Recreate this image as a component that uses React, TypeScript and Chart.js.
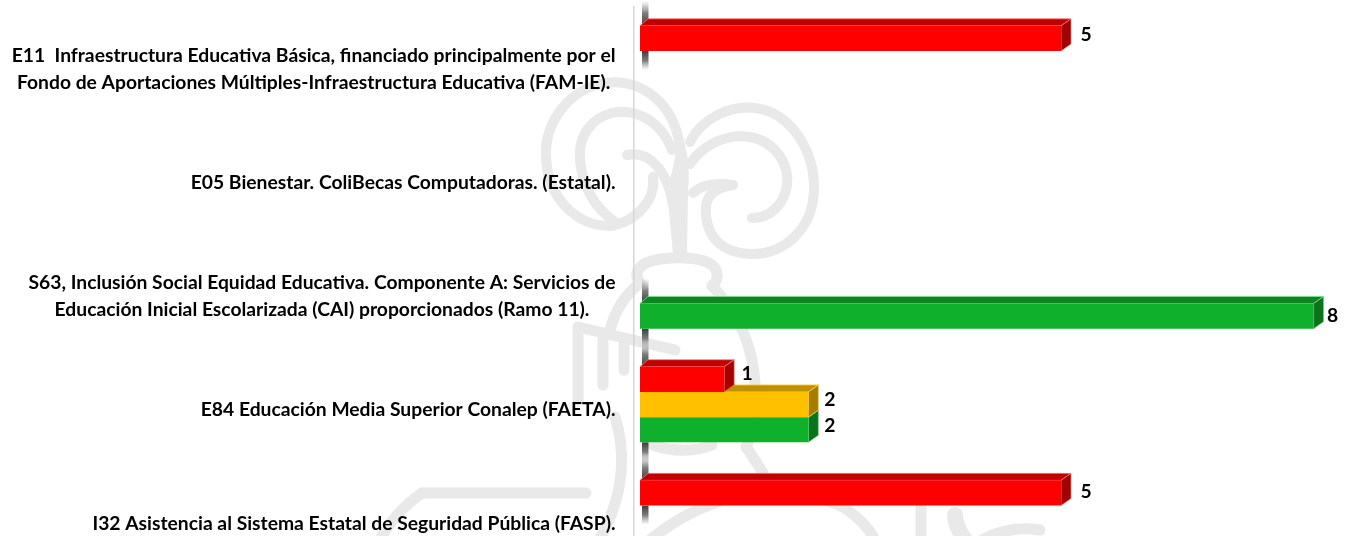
import React, { useEffect, useRef } from "react";
import { Chart, registerables } from "chart.js";

Chart.register(...registerables);

const categories: string[][] = [
  ["E11  Infraestructura Educativa Básica, financiado principalmente por el", "Fondo de Aportaciones Múltiples-Infraestructura Educativa (FAM-IE)."],
  ["E05 Bienestar. ColiBecas Computadoras. (Estatal)."],
  ["S63, Inclusión Social Equidad Educativa. Componente A: Servicios de", "Educación Inicial Escolarizada (CAI) proporcionados (Ramo 11)."],
  ["E84 Educación Media Superior Conalep (FAETA)."],
  ["I32 Asistencia al Sistema Estatal de Seguridad Pública (FASP)."],
];
const redValues = [5, null, null, 1, 5];
const yellowValues = [null, null, null, 2, null];
const greenValues = [null, null, 8, 2, null];

const RED = { front: "#FF0000", top: "#C00000", side: "#A50000", edge: "rgba(255,120,120,0.75)" };
const YELLOW = { front: "#FFC000", top: "#BF9000", side: "#A67D00", edge: "rgba(255,205,60,0.85)" };
const GREEN = { front: "#0FB02C", top: "#0C8522", side: "#0A741D", edge: "rgba(130,220,140,0.75)" };
const FACES = [RED, YELLOW, GREEN];
const FONT = "bold 19.3px Lato";
const WATERMARK = "#E9E9E9";

// hand-placed label nudges of the original, per "dataset:category"
const labelNudge: Record<string, [number, number]> = {
  "0:0": [25, -4],
  "0:3": [23, -6],
  "1:3": [21.5, -5],
  "2:3": [21.5, -3.5],
  "0:4": [25, -1.5],
  "2:2": [19, 0],
};

const watermarkPaths: [number, string][] = [
  [10, "M680 146 C672 95 632 76 600 84 C566 92 545 125 546 155 C547 200 578 226 610 226"],
  [10, "M653 177 C656 200 636 222 610 226"],
  [10, "M627 155 C650 150 668 172 673 205"],
  [10, "M672 150 C660 118 632 108 612 113 C592 118 578 135 580 160 C583 190 598 210 615 222"],
  [10, "M690 142 C702 118 730 105 755 108 C790 112 815 150 814 190 C813 228 785 255 750 254 C725 253 708 240 706 215 C704 198 712 188 733 185"],
  [10, "M693 193 C700 186 712 182 733 185"],
  [10, "M690 164 C702 146 725 133 750 137 C775 141 790 165 787 185 C784 205 770 218 752 218"],
  [11, "M640 283 C632 272 640 262 660 259 C685 256 710 258 716 270 C719 278 716 282 712 286"],
  [11, "M640 283 C625 295 615 310 610 330"],
  [11, "M712 286 C745 320 758 360 755 410 C753 430 750 440 746 447"],
  [11, "M746 447 C752 455 758 465 763 473"],
  [11, "M578 400 L578 327 L675 350"],
  [11, "M603 340 L603 385"],
  [11, "M624 345 L624 370"],
  [11, "M653 445 C672 452 695 452 712 445"],
  [11, "M615 417 C624 445 628 490 599 540"],
  [11, "M422 493 L586 493"],
  [11, "M422 493 C405 505 390 520 380 540"],
  [11, "M650 540 C680 515 715 500 750 493 C790 490 825 498 843 507"],
  [11, "M843 507 C860 518 870 530 875 540"],
  [11, "M921 507 L921 540"],
  [16, "M955 515 C955 525 960 533 965 540"],
  [11, "M982 540 C1000 530 1020 527 1040 530"],
];

const watermarkFills: string[] = [
  "M677 142 C674 170 668 185 667 190 L673 254 L687 254 L688 190 C690 170 688 155 684 142 Z",
];

const wallStrip = {
  id: "wallStrip",
  beforeDatasetsDraw(chart: any) {
    const { ctx } = chart;
    const x0 = 642;
    const x1 = 648.5;
    chart.data.labels.forEach((_: unknown, i: number) => {
      const bars = chart.data.datasets
        .map((_d: unknown, di: number) => chart.getDatasetMeta(di))
        .filter((m: any) => chart.data.datasets[m.index].data[i] != null)
        .map((m: any) => m.data[i]);
      if (!bars.length) return;
      const top = Math.min(...bars.map((b: any) => b.y - b.height / 2));
      const bottom = Math.max(...bars.map((b: any) => b.y + b.height / 2));
      const spans = [
        [top - 25, top, false],
        [bottom, bottom + 19, true],
      ] as [number, number, boolean][];
      spans.forEach(([a, b, downward]) => {
        const g = ctx.createLinearGradient(0, a, 0, b);
        g.addColorStop(downward ? 0 : 1, "rgba(60,60,60,1)");
        g.addColorStop(0.5, "rgba(90,90,90,0.8)");
        g.addColorStop(downward ? 1 : 0, "rgba(130,130,130,0)");
        ctx.fillStyle = g;
        ctx.fillRect(x0, a, x1 - x0, b - a);
      });
    });
  },
};

const plugin3d = {
  id: "plugin3d",
  beforeDraw(chart: any) {
    const { ctx } = chart;
    ctx.save();
    ctx.fillStyle = "#FFFFFF";
    ctx.fillRect(0, 0, chart.width, chart.height);
    ctx.strokeStyle = WATERMARK;
    ctx.fillStyle = WATERMARK;
    ctx.lineCap = "round";
    ctx.lineJoin = "round";
    watermarkPaths.forEach(([w, d]) => {
      ctx.lineWidth = w;
      ctx.stroke(new Path2D(d));
    });
    watermarkFills.forEach((d) => ctx.fill(new Path2D(d)));
    ctx.restore();
  },
  beforeDatasetDraw(chart: any, args: any) {
    const { ctx } = chart;
    const face = FACES[args.index];
    args.meta.data.forEach((bar: any, i: number) => {
      if (chart.data.datasets[args.index].data[i] == null) return;
      const t = bar.y - bar.height / 2;
      const b = bar.y + bar.height / 2;
      const l = bar.base;
      const r = bar.x;
      const poly = (pts: number[][], fill: string) => {
        ctx.beginPath();
        pts.forEach(([x, y], k) => (k ? ctx.lineTo(x, y) : ctx.moveTo(x, y)));
        ctx.closePath();
        ctx.fillStyle = fill;
        ctx.fill();
        ctx.strokeStyle = face.edge;
        ctx.lineWidth = 1;
        ctx.stroke();
      };
      poly([[l, t], [l + 8, t - 7], [r + 10, t - 7], [r, t]], face.top);
      poly([[r, t], [r + 10, t - 7], [r + 10, b - 7], [r, b]], face.side);
    });
  },
  afterDraw(chart: any) {
    const { ctx } = chart;
    ctx.save();
    ctx.font = FONT;
    ctx.fillStyle = "#000000";
    ctx.textBaseline = "middle";
    // category labels: each block ends at the axis gap, its lines centred on each other
    const yScale = chart.scales.y;
    const lineHeight = 26.5;
    (chart.data.labels as string[][]).forEach((lines, i) => {
      const widest = Math.max(...lines.map((s) => ctx.measureText(s).width));
      const cx = 615.5 - widest / 2;
      const cy = yScale.getPixelForTick(i) + 5.5;
      ctx.textAlign = "center";
      lines.forEach((line, k) => {
        ctx.fillText(line, cx, cy + (k - (lines.length - 1) / 2) * lineHeight);
      });
    });
    // value labels
    ctx.textAlign = "center";
    chart.data.datasets.forEach((ds: any, di: number) => {
      chart.getDatasetMeta(di).data.forEach((bar: any, i: number) => {
        const v = ds.data[i];
        if (v == null) return;
        const [dx, dy] = labelNudge[`${di}:${i}`] ?? [23, -3.5];
        ctx.fillText(String(v), bar.x + dx, bar.y + dy);
      });
    });
    ctx.restore();
  },
};

export default function App() {
  const ref = useRef<HTMLCanvasElement>(null);
  useEffect(() => {
    const chart = new Chart(ref.current!, {
      type: "bar",
      data: {
        labels: categories as any,
        datasets: [
          { label: "Rojo", data: redValues, backgroundColor: RED.front, borderWidth: 0 },
          { label: "Amarillo", data: yellowValues, backgroundColor: YELLOW.front, borderWidth: 0 },
          { label: "Verde", data: greenValues, backgroundColor: GREEN.front, borderWidth: 0 },
        ],
      },
      options: {
        indexAxis: "y",
        animation: false,
        responsive: false,
        layout: { padding: { top: 6.8, left: 0, right: 0, bottom: 0 } },
        datasets: { bar: { barPercentage: 1, categoryPercentage: 0.6655 } },
        plugins: { legend: { display: false }, tooltip: { enabled: false } },
        scales: {
          x: { display: false, min: -0.0713, max: 8.432, grid: { display: false } },
          y: {
            grid: { display: false, drawTicks: false },
            ticks: { display: false },
            border: { display: true, color: "#D6D6D6", width: 1.5 },
            afterFit(scale: any) {
              scale.width = 634;
            },
          },
        },
      },
      plugins: [plugin3d, wallStrip],
    } as any);
    return () => chart.destroy();
  }, []);
  return (
    <div style={{ position: "fixed", left: 0, top: 0, width: 1350, height: 536, overflow: "hidden", background: "#fff" }}>
      <canvas ref={ref} width={1350} height={575} style={{ display: "block" }} />
    </div>
  );
}
